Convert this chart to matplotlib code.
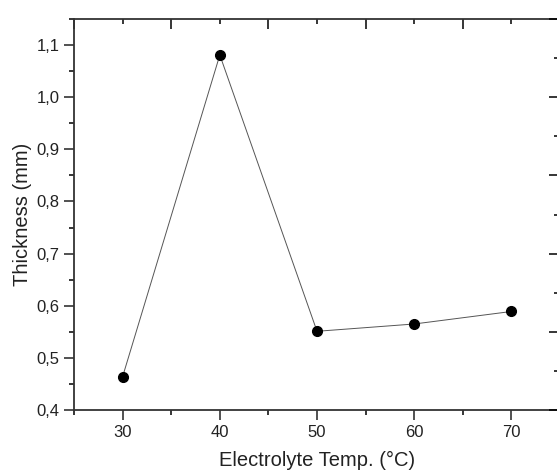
import matplotlib
matplotlib.use("Agg")
import matplotlib.pyplot as plt
from matplotlib.ticker import MultipleLocator, FuncFormatter

temps = [30, 40, 50, 60, 70]
thickness = [0.464, 1.081, 0.551, 0.565, 0.589]

plt.rcParams['font.family'] = ['Liberation Sans', 'DejaVu Sans']

fig = plt.figure(figsize=(5.57, 4.71), dpi=100)
ax = fig.add_axes([0.1329, 0.1295, 0.8725, 0.8301])

ax.plot(temps, thickness, color='#555555', lw=0.7, marker='o',
        markersize=7, markerfacecolor='black', markeredgecolor='black')

ax.set_xlim(25, 75)
ax.set_ylim(0.4, 1.15)
ax.xaxis.set_major_locator(MultipleLocator(10))
ax.xaxis.set_minor_locator(MultipleLocator(5))
ax.yaxis.set_major_locator(MultipleLocator(0.1))
ax.yaxis.set_minor_locator(MultipleLocator(0.05))
ax.yaxis.set_major_formatter(FuncFormatter(lambda v, p: f"{v:.1f}".replace('.', ',')))

ax.tick_params(which='major', direction='out', length=7, width=1.1, labelsize=12, colors='#222222')
ax.tick_params(which='minor', direction='out', length=3.5, width=1.1)
ax.tick_params(top=False, right=False, which='both')
for s in ax.spines.values():
    s.set_linewidth(1.3)
    s.set_color('#333333')

ax.set_xlabel('Electrolyte Temp. (°C)', fontsize=14.5, labelpad=8, color='#222222')
ax.set_ylabel('Thickness (mm)', fontsize=14.5, labelpad=3, color='#222222')

# top axis: inward ticks
top = ax.secondary_xaxis('top')
top.xaxis.set_major_locator(MultipleLocator(10, offset=5))
top.xaxis.set_minor_locator(MultipleLocator(10))
top.tick_params(which='major', direction='in', length=7, width=1.1, labeltop=False)
top.tick_params(which='minor', direction='in', length=3.5, width=1.1)
top.spines['top'].set_visible(False)

# right axis: inward ticks, different scale
right = ax.twinx()
right.set_ylim(0, 5)
right.yaxis.set_major_locator(MultipleLocator(1))
right.yaxis.set_minor_locator(MultipleLocator(0.5))
right.tick_params(which='major', direction='in', length=8, width=1.1, labelright=False)
right.tick_params(which='minor', direction='in', length=4, width=1.1)
for s in right.spines.values():
    s.set_visible(False)

fig.savefig('out.png', dpi=100)
